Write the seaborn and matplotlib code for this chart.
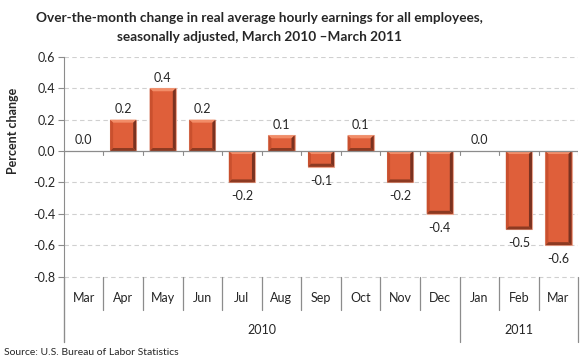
import numpy as np
import pandas as pd
import seaborn as sns
import matplotlib
matplotlib.use("Agg")
import matplotlib.pyplot as plt
from matplotlib.patches import Polygon

months = ["Mar", "Apr", "May", "Jun", "Jul", "Aug", "Sep", "Oct", "Nov", "Dec", "Jan", "Feb", "Mar"]
years = ["2010"] * 10 + ["2011"] * 3
values = [0.0, 0.2, 0.4, 0.2, -0.2, 0.1, -0.1, 0.1, -0.2, -0.4, 0.0, -0.5, -0.6]
yticks = [0.6, 0.4, 0.2, 0.0, -0.2, -0.4, -0.6, -0.8]

df = pd.DataFrame({"idx": range(len(values)), "month": months, "year": years, "value": values})

sns.set_style("white")
plt.rcParams['font.family'] = ['Lato', 'DejaVu Sans']

fig = plt.figure(figsize=(5.8, 3.6), dpi=100)
ax = fig.add_axes([0.110, 0.05, 0.887, 0.792])

YMIN, YMAX = -1.217, 0.6
sns.barplot(data=df, x="idx", y="value", color="#DF5F3A", width=0.66,
            edgecolor="#EBA58F", linewidth=0.8, saturation=1, ax=ax)

ax.set_xlim(-0.5, len(values) - 0.5)
ax.set_ylim(YMIN, YMAX)

# bevel look on every bar (3 px wide edges)
bx = 3 * (len(values)) / 514.0
by = 3 * (YMAX - YMIN) / 285.0
for p in ax.patches:
    h = p.get_height()
    if abs(h) < 1e-9:
        p.set_visible(False)
        continue
    x0, w = p.get_x(), p.get_width()
    y0, y1 = min(p.get_y(), p.get_y() + h), max(p.get_y(), p.get_y() + h)
    x1 = x0 + w
    ix0, ix1, iy0, iy1 = x0 + bx, x1 - bx, y0 + by, y1 - by
    ax.add_patch(Polygon([(x0, y1), (x1, y1), (ix1, iy1), (ix0, iy1)], color="#F28D68", lw=0, zorder=3))
    ax.add_patch(Polygon([(x0, y0), (x0, y1), (ix0, iy1), (ix0, iy0)], color="#C9502E", lw=0, zorder=3))
    ax.add_patch(Polygon([(x1, y0), (x1, y1), (ix1, iy1), (ix1, iy0)], color="#7A3220", lw=0, zorder=3))
    ax.add_patch(Polygon([(x0, y0), (x1, y0), (ix1, iy0), (ix0, iy0)], color="#8C3A22", lw=0, zorder=3))

ax.set_yticks(yticks)
ax.set_yticklabels([f"{t:.1f}" for t in yticks], fontsize=9)
ax.set_xticks([])
ax.set_xlabel("")
ax.set_ylabel("Percent change", fontsize=9, fontweight="bold")
ax.yaxis.set_label_coords(-0.088, 0.74)

# dashed gridlines
for t in yticks:
    if t != 0:
        ax.axhline(t, color="#D0D0D0", linestyle=(0, (4, 3)), linewidth=0.8, zorder=0)
ax.axhline(0, color="#8C8C8C", linewidth=0.9, zorder=4)

for s in ["top", "right", "bottom"]:
    ax.spines[s].set_visible(False)
ax.spines["left"].set_color("#8C8C8C")
ax.tick_params(axis="y", length=4, color="#8C8C8C", left=True, pad=2)

# value labels
for i, v in enumerate(values):
    if v >= 0:
        ax.text(i, v + 0.03, f"{v:.1f}", ha="center", va="bottom", fontsize=9)
    else:
        ax.text(i, v - 0.05, f"{v:.1f}", ha="center", va="top", fontsize=9)

# category separators
n = len(values)
for b in range(n + 1):
    x = b - 0.5
    ax.plot([x, x], [0, -0.025], color="#8C8C8C", linewidth=0.8, zorder=4)
    year_edge = b == 0 or b == n or years[b] != years[b - 1]
    ax.plot([x, x], [-0.8, YMIN if year_edge else -1.01], color="#8C8C8C",
            linewidth=0.9, clip_on=False)

for i, m in enumerate(months):
    ax.text(i, -0.935, m, ha="center", va="center", fontsize=9)

for y in dict.fromkeys(years):
    pos = [i for i, yy in enumerate(years) if yy == y]
    ax.text(np.mean(pos), -1.14, y, ha="center", va="center", fontsize=9)

fig.text(0.448, 0.951, "Over-the-month change in real average hourly earnings for all employees,",
         ha="center", va="center", fontsize=9.8, fontweight="bold")
fig.text(0.448, 0.897, "seasonally adjusted, March 2010 \u2013March 2011",
         ha="center", va="center", fontsize=9.8, fontweight="bold")
fig.text(0.007, 0.022, "Source: U.S. Bureau of Labor Statistics", ha="left", va="center", fontsize=7.5)

fig.savefig("out.png", dpi=100)
